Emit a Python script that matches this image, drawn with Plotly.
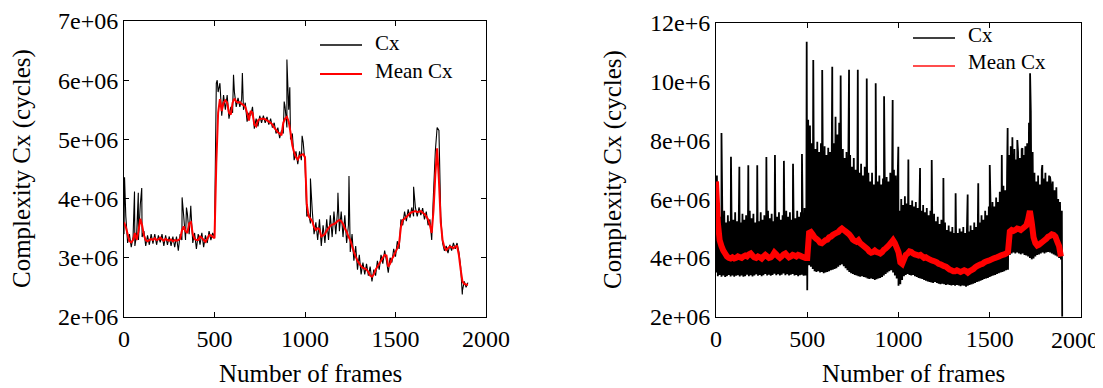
import plotly.graph_objects as go

# ---------------- DATA (values in millions of cycles) ----------------
left_frames = list(range(0, 1901, 10))
left_mean = [
    3.60, 3.52, 3.40, 3.28, 3.26, 3.30, 3.42, 3.30, 3.45, 3.66,
    3.55, 3.38, 3.30, 3.28, 3.30, 3.32, 3.30, 3.33, 3.30, 3.31,
    3.34, 3.31, 3.29, 3.32, 3.30, 3.29, 3.31, 3.28, 3.30, 3.29,
    3.30, 3.32, 3.46, 3.53, 3.45, 3.42, 3.58, 3.60, 3.40, 3.32,
    3.30, 3.30, 3.36, 3.34, 3.30, 3.27, 3.32, 3.38, 3.38, 3.35,
    3.33, 4.60, 5.45, 5.68, 5.48, 5.62, 5.66, 5.62, 5.45, 5.42,
    5.62, 5.69, 5.64, 5.62, 5.63, 5.60, 5.58, 5.55, 5.45, 5.32,
    5.48, 5.45, 5.25, 5.22, 5.32, 5.34, 5.35, 5.35, 5.34, 5.32,
    5.30, 5.28, 5.25, 5.20, 5.16, 5.12, 5.10, 5.07, 5.28, 5.35,
    5.38, 5.30, 5.12, 4.90, 4.78, 4.70, 4.66, 4.72, 4.74, 4.75,
    4.70, 3.90, 3.70, 3.66, 3.62, 3.52, 3.47, 3.50, 3.48, 3.36,
    3.38, 3.40, 3.46, 3.50, 3.54, 3.56, 3.57, 3.59, 3.62, 3.64,
    3.62, 3.57, 3.50, 3.44, 3.36, 3.30, 3.20, 3.10, 3.02, 2.95,
    2.90, 2.86, 2.83, 2.82, 2.80, 2.76, 2.70, 2.68, 2.72, 2.80,
    2.85, 2.90, 2.95, 3.00, 3.05, 3.04, 2.85, 2.90, 2.98, 3.03,
    3.10, 3.16, 3.25, 3.52, 3.64, 3.66, 3.69, 3.72, 3.75, 3.77,
    3.78, 3.79, 3.77, 3.78, 3.79, 3.76, 3.74, 3.70, 3.65, 3.55,
    3.42, 3.80, 4.40, 4.85, 4.30, 3.60, 3.30, 3.18, 3.13, 3.16,
    3.19, 3.18, 3.16, 3.19, 3.20, 3.05, 2.80, 2.60, 2.56, 2.55,
    2.54,
]
left_cx = [
    3.40, 3.70, 3.25, 3.40, 3.18, 3.35, 3.20, 3.40, 3.30, 3.90,
    3.35, 3.45, 3.20, 3.38, 3.22, 3.40, 3.24, 3.40, 3.22, 3.38,
    3.26, 3.40, 3.20, 3.38, 3.22, 3.36, 3.20, 3.36, 3.18, 3.36,
    3.12, 3.40, 3.30, 3.70, 3.30, 3.75, 3.40, 3.80, 3.25, 3.42,
    3.15, 3.40, 3.22, 3.42, 3.18, 3.38, 3.25, 3.45, 3.30, 3.42,
    3.35, 5.95, 5.80, 5.95, 5.40, 5.75, 5.50, 5.75, 5.35, 5.55,
    5.45, 5.80, 5.55, 5.70, 5.55, 5.68, 5.50, 5.62, 5.30, 5.45,
    5.40, 5.55, 5.18, 5.35, 5.22, 5.40, 5.28, 5.40, 5.28, 5.38,
    5.25, 5.35, 5.20, 5.28, 5.10, 5.20, 5.02, 5.15, 5.10, 5.55,
    5.20, 5.50, 5.00, 5.10, 4.65, 4.80, 4.58, 4.80, 4.65, 4.95,
    4.60, 3.70, 3.75, 3.58, 3.80, 3.40, 3.60, 3.30, 3.65, 3.20,
    3.55, 3.25, 3.65, 3.30, 3.72, 3.35, 3.78, 3.40, 3.80, 3.45,
    3.78, 3.35, 3.72, 3.25, 3.55, 3.10, 3.40, 2.95, 3.20, 2.80,
    3.05, 2.72, 2.92, 2.72, 2.90, 2.70, 2.85, 2.60, 2.80, 2.70,
    2.95, 2.80, 3.05, 2.90, 3.12, 2.95, 2.75, 3.00, 2.92, 3.15,
    3.02, 3.28, 3.15, 3.65, 3.55, 3.78, 3.62, 3.82, 3.68, 3.85,
    3.70, 3.85, 3.70, 3.85, 3.72, 3.84, 3.65, 3.78, 3.55, 3.65,
    3.30, 4.10, 4.80, 5.20, 5.15, 3.70, 3.25, 3.12, 3.20, 3.08,
    3.22, 3.12, 3.25, 3.15, 3.25, 3.10, 2.85, 2.45, 2.60, 2.50,
    2.58,
]
left_spike_frames = [3, 58, 79, 98, 321, 345, 369, 515, 605, 654,
                     885, 900, 916, 984, 1030, 1182, 1243, 1600, 1869]
left_spike_values = [4.36, 4.12, 4.10, 4.18, 4.02, 3.85, 3.88, 6.00, 6.09, 6.12,
                     5.64, 6.35, 5.88, 5.06, 4.34, 4.10, 4.38, 4.20, 2.38]

right_frames = list(range(0, 1891, 10))
right_mean = [
    6.60, 5.20, 4.60, 4.40, 4.25, 4.15, 4.05, 4.00, 3.98, 4.02,
    3.98, 4.00, 4.05, 4.02, 4.00, 4.05, 4.08, 4.05, 4.12, 4.15,
    4.08, 4.02, 4.00, 4.05, 4.02, 3.98, 4.05, 4.10, 4.05, 4.00,
    4.02, 4.08, 4.18, 4.12, 4.05, 4.00, 4.05, 4.12, 4.15, 4.08,
    4.02, 4.05, 4.10, 4.08, 4.05, 4.10, 4.08, 4.05, 4.02, 4.00,
    4.00, 4.85, 4.88, 4.80, 4.70, 4.65, 4.60, 4.52, 4.50, 4.55,
    4.60, 4.62, 4.70, 4.72, 4.78, 4.82, 4.85, 4.88, 4.95, 5.00,
    4.95, 4.90, 4.85, 4.80, 4.72, 4.62, 4.58, 4.55, 4.60, 4.50,
    4.45, 4.40, 4.35, 4.30, 4.22, 4.18, 4.20, 4.25, 4.20, 4.18,
    4.15, 4.20, 4.28, 4.32, 4.38, 4.45, 4.52, 4.60, 4.50, 4.35,
    4.20, 3.85, 3.80, 3.95, 4.10, 4.15, 4.22, 4.20, 4.15, 4.12,
    4.10, 4.08, 4.10, 4.05, 4.00, 4.02, 3.98, 3.95, 3.92, 3.90,
    3.88, 3.85, 3.80, 3.78, 3.75, 3.72, 3.70, 3.65, 3.60, 3.58,
    3.55, 3.55, 3.58, 3.55, 3.52, 3.55, 3.58, 3.55, 3.50, 3.55,
    3.58, 3.62, 3.68, 3.72, 3.75, 3.78, 3.80, 3.85, 3.88, 3.90,
    3.92, 3.95, 3.98, 4.00, 4.02, 4.05, 4.08, 4.10, 4.12, 4.15,
    4.20, 4.90, 4.95, 4.92, 4.95, 5.00, 4.98, 4.95, 5.00, 5.05,
    5.10, 5.30, 5.60, 5.20, 4.70, 4.50, 4.42, 4.45, 4.50, 4.55,
    4.60, 4.65, 4.72, 4.75, 4.80, 4.78, 4.72, 4.55, 4.40, 4.05,
]
# lower edge of the Cx band, read at frames 0, 10, 20, ...
right_cx_troughs = [
    3.50, 3.38, 3.42, 3.36, 3.40, 3.35, 3.38, 3.42, 3.37, 3.40,
    3.36, 3.39, 3.41, 3.37, 3.40, 3.36, 3.38, 3.43, 3.38, 3.41,
    3.37, 3.40, 3.44, 3.39, 3.42, 3.38, 3.41, 3.45, 3.40, 3.43,
    3.39, 3.42, 3.46, 3.41, 3.44, 3.40, 3.43, 3.47, 3.41, 3.44,
    3.40, 3.43, 3.45, 3.40, 3.42, 3.38, 3.41, 3.43, 3.39, 3.40,
    2.90, 3.75, 3.70, 3.62, 3.55, 3.52, 3.55, 3.50, 3.52, 3.48,
    3.50, 3.52, 3.55, 3.58, 3.60, 3.62, 3.65, 3.70, 3.75, 3.78,
    3.72, 3.65, 3.58, 3.52, 3.48, 3.45, 3.42, 3.40, 3.38, 3.36,
    3.38, 3.35, 3.33, 3.30, 3.28, 3.30, 3.28, 3.25, 3.27, 3.30,
    3.32, 3.35, 3.40, 3.45, 3.50, 3.55, 3.58, 3.50, 3.40, 3.30,
    3.05, 3.10, 3.25, 3.38, 3.42, 3.45, 3.42, 3.40, 3.42, 3.38,
    3.35, 3.32, 3.30, 3.28, 3.25, 3.22, 3.20, 3.18, 3.16, 3.15,
    3.18, 3.15, 3.12, 3.10, 3.12, 3.10, 3.08, 3.10, 3.08, 3.06,
    3.08, 3.05, 3.08, 3.06, 3.04, 3.06, 3.05, 3.02, 3.05, 3.08,
    3.10, 3.12, 3.15, 3.18, 3.20, 3.22, 3.25, 3.28, 3.30, 3.32,
    3.35, 3.38, 3.40, 3.42, 3.45, 3.48, 3.50, 3.52, 3.55, 3.58,
    3.60, 4.10, 4.15, 4.18, 4.15, 4.18, 4.15, 4.12, 4.15, 4.10,
    4.08, 4.05, 4.00, 3.95, 3.98, 4.05, 4.10, 4.12, 4.15, 4.18,
    4.15, 4.18, 4.20, 4.18, 4.15, 4.12, 4.08, 4.05, 4.00, 3.95,
]
# upper edge of the dense Cx band, read at frames 5, 15, 25, ...
right_cx_peaks = [
    6.80, 5.70, 5.40, 5.30, 5.60, 5.20, 5.45, 5.25, 5.50, 5.30,
    5.55, 5.25, 5.40, 5.20, 5.50, 5.30, 5.45, 5.25, 5.60, 5.35,
    5.50, 5.20, 5.40, 5.25, 5.55, 5.30, 5.45, 5.20, 5.60, 5.35,
    5.50, 5.25, 5.65, 5.40, 5.55, 5.30, 5.45, 5.25, 5.60, 5.40,
    5.55, 5.30, 5.50, 5.35, 5.60, 5.40, 5.55, 5.35, 5.70, 5.45,
    8.70, 8.50, 7.90, 8.10, 7.70, 7.95, 7.60, 7.90, 7.55, 7.80,
    7.50, 7.75, 7.60, 8.40, 7.90, 8.80, 8.20, 8.60, 8.00, 7.70,
    7.40, 7.60, 7.20, 7.50, 7.10, 7.40, 7.00, 7.30, 6.90, 7.20,
    6.80, 7.10, 6.70, 6.90, 6.60, 6.90, 6.50, 6.80, 6.60, 6.80,
    6.50, 6.70, 6.55, 6.75, 6.60, 6.90, 6.70, 7.00, 6.80, 6.60,
    5.60, 6.00, 5.80, 6.10, 5.85, 6.00, 5.80, 5.95, 5.75, 5.90,
    5.70, 5.85, 5.60, 5.80, 5.55, 5.70, 5.45, 5.60, 5.35, 5.50,
    5.25, 5.40, 5.15, 5.30, 5.05, 5.20, 4.95, 5.10, 4.90, 5.05,
    4.85, 5.00, 4.85, 5.00, 4.90, 5.05, 4.85, 5.00, 4.90, 5.10,
    4.95, 5.20, 5.05, 5.35, 5.20, 5.45, 5.30, 5.60, 5.45, 5.75,
    5.60, 5.90, 5.75, 6.05, 5.90, 6.25, 6.10, 6.45, 6.30, 6.90,
    7.50, 7.80, 7.40, 7.70, 7.35, 7.60, 7.40, 7.70, 7.50, 7.80,
    7.90, 8.60, 9.00, 7.60, 6.90, 6.60, 6.80, 6.50, 7.00, 6.70,
    6.90, 6.60, 6.80, 6.50, 6.60, 6.30, 6.40, 6.00, 5.90, 5.60,
]
right_spike_frames = [30, 82, 128, 177, 226, 276, 323, 372, 422, 471,
                      497, 533, 582, 637, 683, 729, 777, 826, 875, 921,
                      968, 999, 1054, 1118, 1182, 1246, 1313, 1379, 1437, 1500,
                      1566, 1598, 1624, 1651, 1679, 1721, 1788, 1830, 1897]
right_spike_values = [8.25, 7.44, 7.10, 7.15, 7.15, 7.43, 7.50, 7.30, 7.20, 7.53,
                      11.35, 10.73, 10.39, 10.50, 10.20, 10.40, 10.40, 10.10, 9.94, 9.50,
                      9.37, 7.78, 7.35, 7.06, 7.33, 6.72, 6.20, 6.16, 6.54, 7.16,
                      7.50, 8.42, 8.10, 8.01, 7.73, 10.28, 7.16, 6.77, 2.00]

left_yticks = [2, 3, 4, 5, 6, 7]
left_yticktext = ["2e+06", "3e+06", "4e+06", "5e+06", "6e+06", "7e+06"]
right_yticks = [2, 4, 6, 8, 10, 12]
right_yticktext = ["2e+06", "4e+06", "6e+06", "8e+06", "10e+6", "12e+6"]
xticks = [0, 500, 1000, 1500, 2000]
xticktext = ["0", "500", "1000", "1500", "2000"]
legend_labels = ["Cx", "Mean Cx"]

assert len(left_mean) == len(left_frames) == len(left_cx)
assert len(right_mean) == len(right_frames) == len(right_cx_troughs) == len(right_cx_peaks)
assert len(left_spike_frames) == len(left_spike_values)
assert len(right_spike_frames) == len(right_spike_values)

M = 1e6


def merge(frames, values, sf, sv):
    pts = sorted(list(zip(frames, values)) + list(zip(sf, sv)))
    return [p[0] for p in pts], [p[1] * M for p in pts]


lx, ly = merge(left_frames, left_cx, left_spike_frames, left_spike_values)

band_f, band_v = [], []
for f, lo, hi in zip(right_frames, right_cx_troughs, right_cx_peaks):
    band_f += [f, f + 5]
    band_v += [lo, hi]
rx, ry = merge(band_f, band_v, right_spike_frames, right_spike_values)

# ---------------- LAYOUT ----------------
FONT = "Liberation Serif"
OFF = 8                      # page body margin
W, H = 1103 - OFF, 388 - OFF


def fx(px):
    return (px - OFF) / W


def fy(py):
    return 1 - (py - OFF) / H


fig = go.Figure()
fig.add_trace(go.Scatter(x=lx, y=ly, mode="lines", name="Cx",
                         line=dict(color="black", width=1.1, simplify=False),
                         xaxis="x", yaxis="y", showlegend=False))
fig.add_trace(go.Scatter(x=left_frames, y=[v * M for v in left_mean], mode="lines",
                         name="Mean Cx", line=dict(color="red", width=2, simplify=False),
                         xaxis="x", yaxis="y", showlegend=False))
fig.add_trace(go.Scatter(x=rx, y=ry, mode="lines", name="Cx",
                         line=dict(color="black", width=1.8, simplify=False),
                         xaxis="x2", yaxis="y2", showlegend=False))
fig.add_trace(go.Scatter(x=right_frames, y=[v * M for v in right_mean], mode="lines",
                         name="Mean Cx", line=dict(color="red", width=6, simplify=False),
                         xaxis="x2", yaxis="y2", showlegend=False))

axis_common = dict(showline=True, linecolor="black", linewidth=1, mirror="ticks",
                   ticks="inside", ticklen=5, tickcolor="black", showgrid=False,
                   zeroline=False, automargin=False, ticklabeloverflow="allow",
                   tickfont=dict(family=FONT, size=24, color="black"))

fig.update_layout(
    template="none",
    width=W, height=H,
    margin=dict(l=0, r=0, t=0, b=0),
    paper_bgcolor="white", plot_bgcolor="white",
    font=dict(family=FONT, color="black"),
    showlegend=False,
    xaxis=dict(domain=[fx(124), fx(486)], range=[0, 2000], tickvals=xticks,
               ticktext=xticktext, anchor="y", **axis_common),
    yaxis=dict(domain=[fy(317), fy(21)], range=[2e6, 7e6],
               tickvals=[t * M for t in left_yticks], ticktext=left_yticktext,
               anchor="x", **axis_common),
    # right panel: the last label sits pulled in from the frame edge in the
    # original, so it is written as a separate text below
    xaxis2=dict(domain=[fx(716), fx(1081)], range=[0, 2000], tickvals=xticks,
                ticktext=xticktext[:-1] + [""], anchor="y2", **axis_common),
    yaxis2=dict(domain=[fy(316.7), fy(22.7)], range=[2e6, 12e6],
                tickvals=[t * M for t in right_yticks], ticktext=right_yticktext,
                anchor="x2", **{**axis_common, "ticks": "", "mirror": True}),
    yaxis3=dict(overlaying="y2", anchor="x2", range=[0, 7], dtick=1,
                showticklabels=False, **{**axis_common, "showline": False}),
)

fig.add_annotation(text=xticktext[-1], x=fx(1075), y=fy(340), xref="paper", yref="paper",
                   showarrow=False, font=dict(family=FONT, size=24, color="black"),
                   xanchor="center", yanchor="middle")

title_font = dict(family=FONT, size=25, color="black")
for xpos, ypos in [(22, 169), (613, 170)]:
    fig.add_annotation(text="Complexity Cx (cycles)", textangle=-90, x=fx(xpos), y=fy(ypos),
                       xref="paper", yref="paper", showarrow=False, font=title_font,
                       xanchor="center", yanchor="middle")
for xpos, ypos in [(311, 373), (913, 373)]:
    fig.add_annotation(text="Number of frames", x=fx(xpos), y=fy(ypos),
                       xref="paper", yref="paper", showarrow=False, font=title_font,
                       xanchor="center", yanchor="middle")

# legends (line sample + label), one per panel
legend_font = dict(family=FONT, size=21, color="black")
for (lx0, lx1, tx, rows, red) in [
    (320, 362, 373, [(45, 43), (74, 71)], "red"),
    (913, 955, 966, [(38, 35), (66, 62)], "#ff4d4d"),
]:
    for (ly_line, ly_text), label, col in zip(rows, legend_labels, ["black", red]):
        fig.add_shape(type="line", xref="paper", yref="paper",
                      x0=fx(lx0), x1=fx(lx1), y0=fy(ly_line), y1=fy(ly_line),
                      line=dict(color=col, width=1.5 if col == "black" else 2))
        fig.add_annotation(text=label, x=fx(tx), y=fy(ly_text), xref="paper", yref="paper",
                           showarrow=False, font=legend_font, xanchor="left",
                           yanchor="middle")

fig.write_html("out.html")
